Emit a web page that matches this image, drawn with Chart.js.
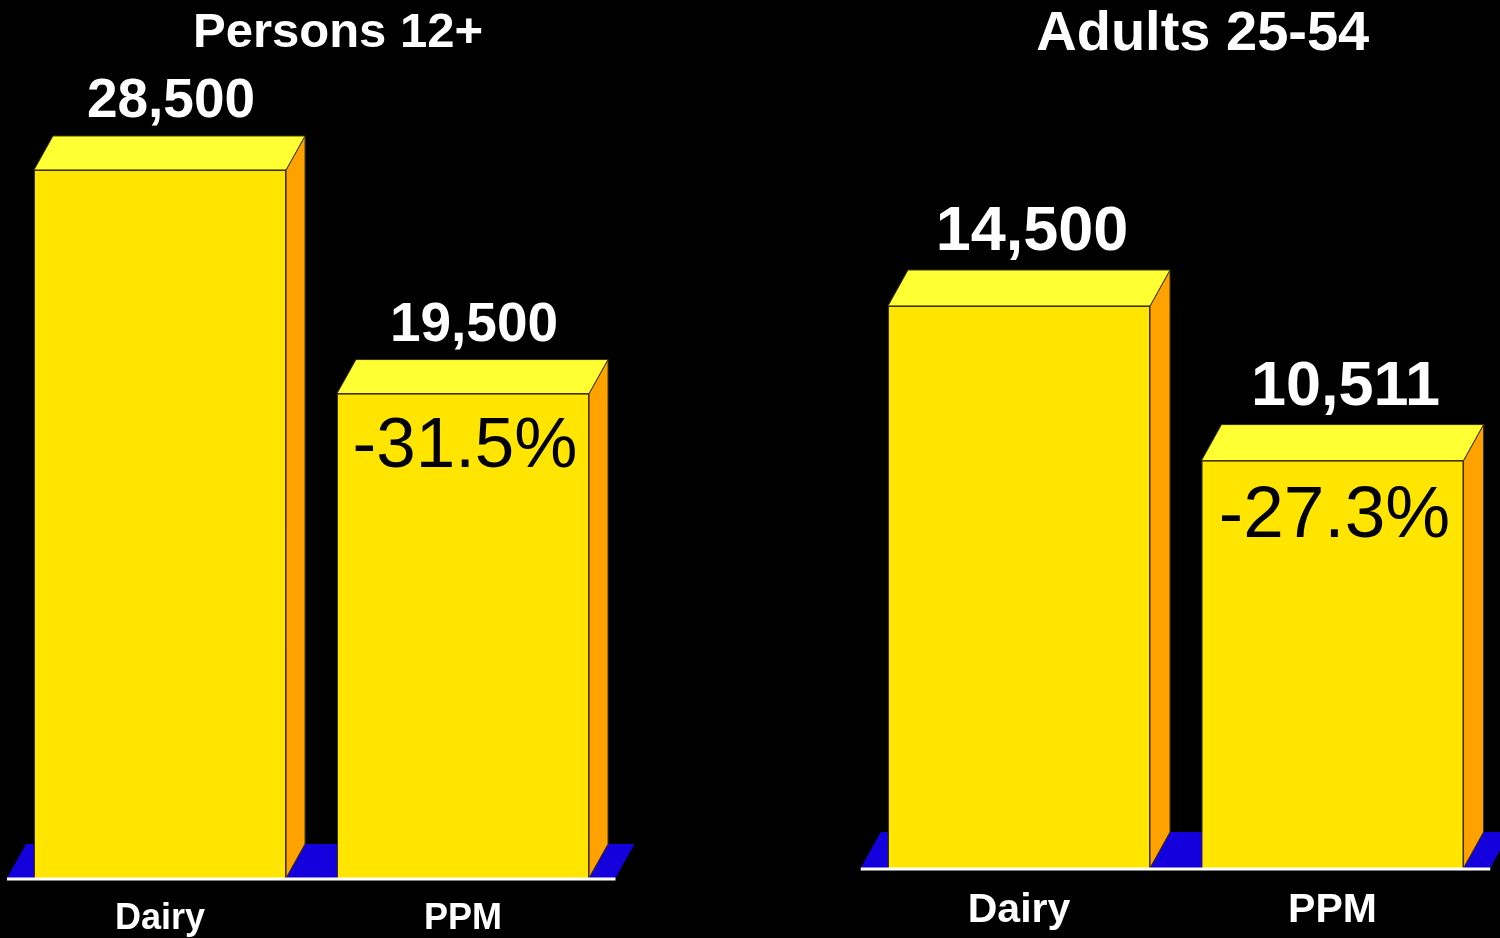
<!DOCTYPE html>
<html><head><meta charset="utf-8">
<script src="https://cdn.jsdelivr.net/npm/chart.js@4.4.0/dist/chart.umd.min.js"></script>
<style>
html,body{margin:0;padding:0;background:#000;width:1500px;height:938px;overflow:hidden}
canvas{position:absolute;top:0}
#c1{left:0}
#c2{left:750px}
</style></head><body>
<canvas id="c1" width="750" height="938"></canvas>
<canvas id="c2" width="750" height="938"></canvas>
<script>
// ---- data ----
const categories = ['Dairy', 'PPM'];
const persons12Values = [28500, 19500];
const adults2554Values = [14500, 10511];
const persons12Change = ['', '-31.5%'];
const adults2554Change = ['', '-27.3%'];
const panelTitles = ['Persons 12+', 'Adults 25-54'];

const FONT = "Arial, 'Liberation Sans', sans-serif";
const fmt = v => v.toLocaleString('en-US');

const bar3d = {
  id: 'bar3d',
  beforeDatasetsDraw(chart, args, o) {
    const {ctx, chartArea: a} = chart;
    ctx.save();
    ctx.fillStyle = o.floorColor;
    ctx.beginPath();
    ctx.moveTo(a.left - 1.5, a.bottom);
    ctx.lineTo(a.right + 1, a.bottom);
    ctx.lineTo(a.right + 1 + o.dx, a.bottom - o.dy);
    ctx.lineTo(a.left - 1.5 + o.dx, a.bottom - o.dy);
    ctx.closePath();
    ctx.fill();
    ctx.restore();
  },
  afterDatasetsDraw(chart, args, o) {
    const {ctx, chartArea: a} = chart;
    const meta = chart.getDatasetMeta(0);
    ctx.save();
    ctx.lineWidth = 1;
    ctx.strokeStyle = o.edgeColor;
    meta.data.forEach((bar, i) => {
      const p = bar.getProps(['x', 'y', 'base', 'width'], true);
      const l = p.x - p.width / 2, r = p.x + p.width / 2;
      // side face
      ctx.fillStyle = o.sideColor;
      ctx.beginPath();
      ctx.moveTo(r, p.y);
      ctx.lineTo(r + o.dx, p.y - o.dy);
      ctx.lineTo(r + o.dx, p.base - o.dy);
      ctx.lineTo(r, p.base);
      ctx.closePath();
      ctx.fill(); ctx.stroke();
      // top face
      ctx.fillStyle = o.topColor;
      ctx.beginPath();
      ctx.moveTo(l, p.y);
      ctx.lineTo(l + o.dx, p.y - o.dy);
      ctx.lineTo(r + o.dx, p.y - o.dy);
      ctx.lineTo(r, p.y);
      ctx.closePath();
      ctx.fill(); ctx.stroke();
      // value label
      ctx.fillStyle = '#fff';
      ctx.textAlign = 'center';
      ctx.textBaseline = 'alphabetic';
      ctx.font = 'bold ' + o.valueSize + 'px ' + FONT;
      ctx.fillText(fmt(chart.data.datasets[0].data[i]), p.x + o.valueShift, p.y - o.dy - o.valueGap);
      // change label
      const ch = o.changes[i];
      if (ch) {
        ctx.fillStyle = '#000';
        ctx.font = o.changeSize + 'px ' + FONT;
        ctx.fillText(ch, p.x + 2, p.y + o.changeDrop);
      }
    });
    // baseline
    ctx.strokeStyle = '#fff';
    ctx.lineWidth = 3;
    ctx.beginPath();
    ctx.moveTo(a.left - 1.5, a.bottom + 1);
    ctx.lineTo(a.right + 1, a.bottom + 1);
    ctx.stroke();
    // title
    ctx.fillStyle = '#fff';
    ctx.textAlign = 'center';
    ctx.textBaseline = 'alphabetic';
    ctx.font = 'bold ' + o.titleSize + 'px ' + FONT;
    ctx.fillText(o.title, (a.left + a.right + o.dx) / 2 + 17, o.titleBaseline);
    ctx.restore();
  }
};

function makeChart(id, values, changes, title, cfg) {
  return new Chart(document.getElementById(id), {
    type: 'bar',
    data: {
      labels: categories,
      datasets: [{
        data: values,
        backgroundColor: '#FFE500',
        borderColor: '#3a3000',
        borderWidth: 1,
        categoryPercentage: 1,
        barPercentage: cfg.barPct
      }]
    },
    options: {
      responsive: false,
      animation: false,
      devicePixelRatio: 1,
      layout: { padding: cfg.padding },
      plugins: {
        legend: { display: false },
        tooltip: { enabled: false },
        bar3d: {
          dx: cfg.dx, dy: cfg.dy,
          floorColor: '#1400DC', sideColor: '#FFA200', topColor: '#FFFF33', edgeColor: '#3a3000',
          valueSize: cfg.valueSize, valueGap: cfg.valueGap, valueShift: cfg.valueShift,
          changes: changes, changeSize: cfg.changeSize, changeDrop: cfg.changeDrop,
          title: title, titleSize: cfg.titleSize, titleBaseline: cfg.titleBaseline
        }
      },
      scales: {
        x: {
          grid: { display: false },
          border: { display: false },
          ticks: { color: '#fff', font: { family: FONT, size: cfg.tickSize, weight: 'bold' }, padding: cfg.tickPad },
          afterFit: s => { s.height = cfg.axisH; }
        },
        y: { display: false, min: 0, max: cfg.yMax }
      }
    },
    plugins: [bar3d]
  });
}

makeChart('c1', persons12Values, persons12Change, panelTitles[0], {
  barPct: 0.832, padding: { left: 8.5, right: 135.5, top: 132.7, bottom: 0 },
  axisH: 60, yMax: 30000, dx: 19, dy: 34,
  valueSize: 55, valueGap: 19, valueShift: 11,
  changeSize: 71, changeDrop: 73, tickSize: 36, tickPad: 11,
  titleSize: 49, titleBaseline: 47
});
makeChart('c2', adults2554Values, adults2554Change, panelTitles[1], {
  barPct: 0.836, padding: { left: 112.25, right: 10.75, top: 170.3, bottom: 0 },
  axisH: 70, yMax: 18000, dx: 20, dy: 36,
  valueSize: 63, valueGap: 20, valueShift: 13,
  changeSize: 73, changeDrop: 76, tickSize: 41, tickPad: 10,
  titleSize: 56, titleBaseline: 50
});
</script>
</body></html>
